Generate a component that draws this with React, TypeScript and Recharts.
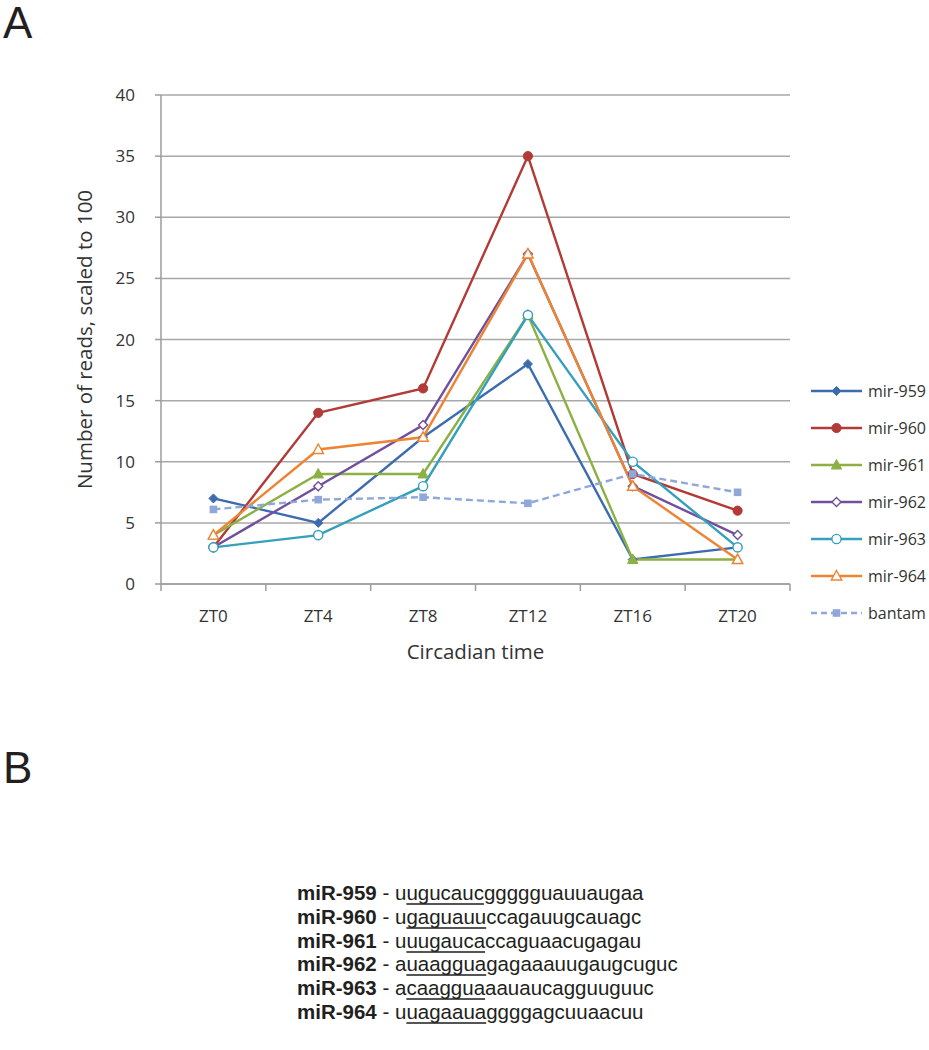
import React from 'react';
import { LineChart, Line, XAxis, YAxis, CartesianGrid, Legend } from 'recharts';

// circadian sampling points
const times = ['ZT0', 'ZT4', 'ZT8', 'ZT12', 'ZT16', 'ZT20'];

// reads, scaled to 100
const mir959 = [7, 5, 12, 18, 2, 3];
const mir960 = [3, 14, 16, 35, 9, 6];
const mir961 = [4, 9, 9, 22, 2, 2];
const mir962 = [3, 8, 13, 27, 8, 4];
const mir963 = [3, 4, 8, 22, 10, 3];
const mir964 = [4, 11, 12, 27, 8, 2];
const bantam = [6.1, 6.9, 7.1, 6.6, 9.0, 7.5];

const yTicks = [0, 5, 10, 15, 20, 25, 30, 35, 40];

// panel B sequences: first base, seed (underlined), remainder
const seqNames = ['miR-959', 'miR-960', 'miR-961', 'miR-962', 'miR-963', 'miR-964'];
const seqHead = ['u', 'u', 'u', 'a', 'a', 'u'];
const seqSeed = ['ugucauc', 'gaguauu', 'uugauca', 'uaaggua', 'caaggua', 'uagaaua'];
const seqTail = [
  'ggggguauuaugaa',
  'ccagauugcauagc',
  'ccaguaacugagau',
  'gagaaauugaugcuguc',
  'aauaucagguuguuc',
  'ggggagcuuaacuu',
];

type Shape = 'diamond' | 'circle' | 'triangle' | 'square';

const SERIES: { key: string; name: string; color: string; shape: Shape; open: boolean; dashed?: boolean }[] = [
  { key: 'mir959', name: 'mir-959', color: '#3C6CB0', shape: 'diamond', open: false },
  { key: 'mir960', name: 'mir-960', color: '#B23B37', shape: 'circle', open: false },
  { key: 'mir961', name: 'mir-961', color: '#8CB044', shape: 'triangle', open: false },
  { key: 'mir962', name: 'mir-962', color: '#70509C', shape: 'diamond', open: true },
  { key: 'mir963', name: 'mir-963', color: '#34A0BB', shape: 'circle', open: true },
  { key: 'mir964', name: 'mir-964', color: '#EE8431', shape: 'triangle', open: true },
  { key: 'bantam', name: 'bantam', color: '#8FA8D9', shape: 'square', open: false, dashed: true },
];

const data = times.map((t, i) => ({
  x: i + 0.5,
  t,
  mir959: mir959[i],
  mir960: mir960[i],
  mir961: mir961[i],
  mir962: mir962[i],
  mir963: mir963[i],
  mir964: mir964[i],
  bantam: bantam[i],
}));

const xTicks = Array.from({ length: times.length * 2 + 1 }, (_, i) => i / 2);

const AXIS = '#9d9d9d';
const GRID = '#a8a8a8';
const TXT = '#333';
const FONT = '"Open Sans", sans-serif';

function Marker({ cx, cy, shape, color, open }: { cx: number; cy: number; shape: Shape; color: string; open: boolean }) {
  const fill = open ? '#fff' : color;
  const sw = open ? 1.4 : 1;
  if (shape === 'diamond') {
    const r = 4.5;
    return <polygon points={`${cx},${cy - r} ${cx + r},${cy} ${cx},${cy + r} ${cx - r},${cy}`} fill={fill} stroke={color} strokeWidth={sw} />;
  }
  if (shape === 'triangle') {
    return <polygon points={`${cx},${cy - 5.5} ${cx + 5.2},${cy + 4} ${cx - 5.2},${cy + 4}`} fill={fill} stroke={color} strokeWidth={sw} />;
  }
  if (shape === 'square') {
    return <rect x={cx - 3.8} y={cy - 3.8} width={7.6} height={7.6} fill={fill} />;
  }
  return <circle cx={cx} cy={cy} r={4.6} fill={fill} stroke={color} strokeWidth={sw} />;
}

function makeDot(shape: Shape, color: string, open: boolean) {
  return (props: any) => (
    <Marker key={`${shape}-${color}-${props.index}`} cx={props.cx} cy={props.cy} shape={shape} color={color} open={open} />
  );
}

function XTick(props: any) {
  const { x, y, payload } = props;
  const v = payload.value as number;
  if (Number.isInteger(v)) {
    return <line x1={x} x2={x} y1={y} y2={y + 7} stroke={AXIS} strokeWidth={1.5} />;
  }
  return (
    <text x={x} y={y + 38} textAnchor="middle" fill={TXT} fontSize={17} fontFamily={FONT}>
      {times[Math.floor(v)]}
    </text>
  );
}

function LegendBox() {
  return (
    <div style={{ fontFamily: FONT, whiteSpace: 'nowrap' }}>
      {SERIES.map((s) => (
        <div key={s.key} style={{ display: 'flex', alignItems: 'center', height: 37 }}>
          <svg width={57} height={14} style={{ display: 'block', flexShrink: 0 }}>
            <line x1={3} x2={54} y1={7} y2={7} stroke={s.color} strokeWidth={2.5} strokeDasharray={s.dashed ? '6 4' : undefined} />
            <Marker cx={28.5} cy={7} shape={s.shape} color={s.color} open={s.open} />
          </svg>
          <span style={{ fontSize: 16, color: TXT, marginLeft: 3 }}>{s.name}</span>
        </div>
      ))}
    </div>
  );
}

export default function App() {
  return (
    <div style={{ position: 'absolute', left: 0, top: 0, width: 929, height: 1050, background: '#fff', overflow: 'hidden' }}>
      <div style={s.panelLetter}>A</div>
      <div style={{ ...s.panelLetter, top: 746 }}>B</div>

      <div style={{ position: 'absolute', left: 0, top: 0 }}>
        <LineChart width={929} height={680} data={data} margin={{ top: 95, right: 139, bottom: 0, left: 0 }}>
          <CartesianGrid vertical={false} stroke={GRID} strokeWidth={1.5} />
          <XAxis
            dataKey="x"
            type="number"
            domain={[0, times.length]}
            ticks={xTicks}
            interval={0}
            height={96}
            tickLine={false}
            tickSize={0}
            tickMargin={0}
            tick={<XTick />}
            axisLine={{ stroke: AXIS, strokeWidth: 1.5 }}
            label={(p: any) => {
              const vb = p.viewBox;
              return (
                <text x={vb.x + vb.width / 2} y={vb.y + 75} textAnchor="middle" fill={TXT} fontSize={20.5} fontFamily={FONT}>
                  Circadian time
                </text>
              );
            }}
          />
          <YAxis
            domain={[0, 40]}
            ticks={yTicks}
            interval={0}
            width={161}
            tickSize={6}
            tickMargin={20}
            tick={{ fill: TXT, fontSize: 17, fontFamily: FONT }}
            tickLine={{ stroke: AXIS, strokeWidth: 1.5 }}
            axisLine={{ stroke: AXIS, strokeWidth: 1.5 }}
            label={(p: any) => {
              const vb = p.viewBox;
              const cy = vb.y + vb.height / 2;
              return (
                <text x={92} y={cy} transform={`rotate(-90 92 ${cy})`} textAnchor="middle" fill={TXT} fontSize={20.5} fontFamily={FONT}>
                  Number of reads, scaled to 100
                </text>
              );
            }}
          />
          <Legend
            layout="vertical"
            align="center"
            verticalAlign="middle"
            wrapperStyle={{ left: 808, top: 372, width: 121 }}
            content={() => <LegendBox />}
          />
          {SERIES.map((ser) => (
            <Line
              key={ser.key}
              dataKey={ser.key}
              name={ser.name}
              stroke={ser.color}
              strokeWidth={2.4}
              strokeDasharray={ser.dashed ? '7 4' : undefined}
              dot={makeDot(ser.shape, ser.color, ser.open)}
              activeDot={false}
              isAnimationActive={false}
            />
          ))}
        </LineChart>
      </div>

      <div style={s.seqBlock}>
        {seqNames.map((n, i) => (
          <div key={n} style={{ height: 23.8, whiteSpace: 'nowrap' }}>
            <b>{n}</b> - {seqHead[i]}
            <span style={s.seed}>{seqSeed[i]}</span>
            {seqTail[i]}
          </div>
        ))}
      </div>
    </div>
  );
}

const s: Record<string, React.CSSProperties> = {
  panelLetter: {
    position: 'absolute',
    left: 3,
    top: 1,
    fontFamily: '"Liberation Sans", Arial, sans-serif',
    fontSize: 44,
    lineHeight: '44px',
    color: '#231f20',
  },
  seqBlock: {
    position: 'absolute',
    left: 297,
    top: 881,
    fontFamily: '"Liberation Sans", Arial, sans-serif',
    fontSize: 20.5,
    lineHeight: '23.8px',
    color: '#231f20',
  },
  seed: {
    textDecoration: 'underline',
    textDecorationColor: '#555',
    textDecorationThickness: 1.5,
    textDecorationSkipInk: 'none',
    textUnderlineOffset: 3,
  },
};
